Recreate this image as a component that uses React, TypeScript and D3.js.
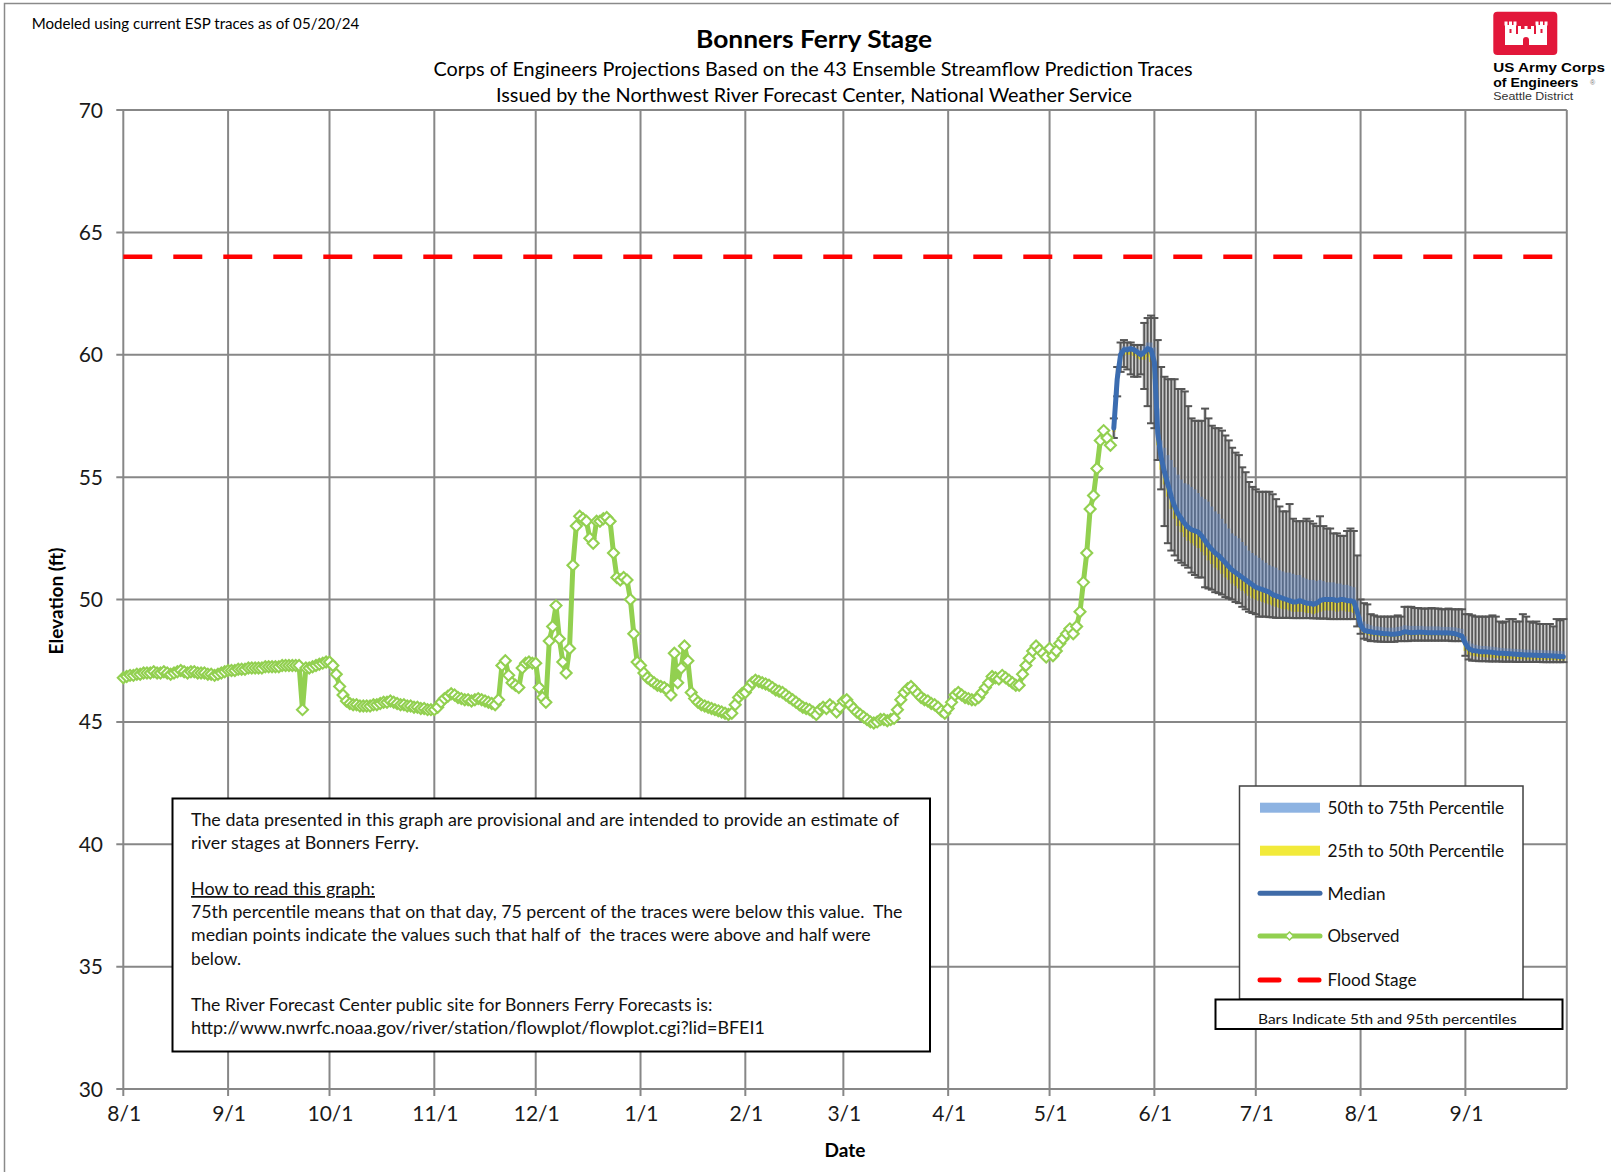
import React, { useEffect, useRef } from 'react';
import * as d3 from 'd3';

// Time span of the chart and of the two data series
const axisStart = new Date(2023, 7, 1);
const axisEnd = new Date(2024, 9, 1);
const observedStart = new Date(2023, 7, 1);
const forecastStart = new Date(2024, 4, 20);

// Daily observed stage (ft), 8/1/23 - 5/19/24
const observedStage: number[] = [
  // Aug
  46.8, 46.85, 46.9, 46.9, 46.95, 46.95, 47.0, 47.0, 47.0, 47.05, 47.0, 47.0, 47.05, 47.0, 46.95, 47.0,
  47.05, 47.1, 47.05, 47.0, 47.05, 47.05, 47.0, 47.0, 47.0, 46.95, 46.95, 46.9, 46.95, 47.0, 47.05,
  // Sep
  47.1, 47.1, 47.1, 47.15, 47.15, 47.15, 47.2, 47.2, 47.2, 47.2, 47.2, 47.25, 47.25, 47.25, 47.25,
  47.25, 47.3, 47.3, 47.3, 47.3, 47.3, 47.3, 45.5, 47.2, 47.2, 47.25, 47.3, 47.35, 47.4, 47.45,
  // Oct
  47.45, 47.3, 46.95, 46.45, 46.1, 45.85, 45.75, 45.7, 45.7, 45.65, 45.65, 45.65, 45.65, 45.7, 45.7,
  45.75, 45.8, 45.8, 45.85, 45.8, 45.75, 45.7, 45.7, 45.65, 45.65, 45.6, 45.6, 45.55, 45.55, 45.5, 45.5,
  // Nov
  45.5, 45.6, 45.8, 45.95, 46.05, 46.15, 46.1, 46.0, 45.95, 45.9, 45.9, 45.85, 45.9, 45.95, 45.9,
  45.85, 45.8, 45.75, 45.7, 45.9, 47.3, 47.5, 46.9, 46.6, 46.5, 46.4, 47.2, 47.4, 47.45, 47.4,
  // Dec
  47.4, 46.4, 46.0, 45.8, 48.3, 48.9, 49.75, 48.4, 47.45, 47.0, 48.0, 51.4, 53.0, 53.4, 53.3, 53.2,
  52.5, 52.3, 53.2, 53.2, 53.3, 53.35, 53.2, 51.9, 50.9, 50.8, 50.9, 50.8, 50.0, 48.6, 47.45,
  // Jan
  47.3, 47.0, 46.8, 46.7, 46.6, 46.5, 46.45, 46.4, 46.3, 46.1, 47.8, 46.6, 47.2, 48.1, 47.5, 46.2,
  45.95, 45.8, 45.7, 45.65, 45.6, 45.55, 45.5, 45.45, 45.4, 45.35, 45.3, 45.35, 45.7, 46.0, 46.15,
  // Feb
  46.2, 46.4, 46.6, 46.7, 46.65, 46.6, 46.55, 46.5, 46.4, 46.3, 46.25, 46.2, 46.1, 46.0, 45.9,
  45.8, 45.7, 45.6, 45.55, 45.5, 45.4, 45.3, 45.5, 45.6, 45.55, 45.7, 45.6, 45.4, 45.6,
  // Mar
  45.85, 45.9, 45.7, 45.55, 45.4, 45.3, 45.2, 45.1, 45.0, 44.95, 45.0, 45.1, 45.1, 45.05, 45.1, 45.15,
  45.5, 45.9, 46.2, 46.35, 46.45, 46.3, 46.15, 46.0, 45.9, 45.85, 45.75, 45.7, 45.6, 45.45, 45.35,
  // Apr
  45.55, 45.8, 46.1, 46.2, 46.1, 46.0, 45.95, 45.9, 45.9, 46.0, 46.2, 46.4, 46.6, 46.85, 46.8,
  46.75, 46.9, 46.8, 46.7, 46.6, 46.5, 46.5, 46.95, 47.3, 47.6, 47.9, 48.1, 47.95, 47.8, 47.65,
  // May 1-19
  48.0, 47.7, 47.9, 48.2, 48.4, 48.6, 48.8, 48.6, 48.9, 49.5, 50.7, 51.9, 53.7, 54.25, 55.35, 56.5,
  56.9, 56.6, 56.3,
];

// ESP forecast percentiles, daily 5/20/24 - 9/30/24
const forecastMedian: number[] = [
  57.0, 59.0, 60.0, 60.2, 60.2, 60.25, 60.2, 60.1, 60.0, 60.1, 60.25, 60.2,
  59.7, 56.8, 55.8, 55.2, 54.7, 54.2, 53.8, 53.5, 53.3, 53.1, 52.95, 52.85, 52.8, 52.75, 52.6,
  52.4, 52.2, 52.05, 51.9, 51.8, 51.65, 51.5, 51.35, 51.2, 51.1, 51.0, 50.9, 50.8, 50.7, 50.6,
  50.5, 50.45, 50.4, 50.35, 50.3, 50.2, 50.15, 50.1, 50.05, 50.0, 49.95, 49.9, 49.9, 49.95, 49.9,
  49.85, 49.85, 49.8, 49.85, 49.95, 50.0, 50.0, 50.0, 50.0, 49.95, 50.0, 50.0, 49.95, 49.95, 49.9, 49.5,
  48.95, 48.75, 48.7, 48.68, 48.65, 48.64, 48.62, 48.6, 48.6, 48.58, 48.58, 48.6, 48.62, 48.68, 48.66,
  48.64, 48.65, 48.66, 48.66, 48.65, 48.64, 48.64, 48.64, 48.64, 48.63, 48.64, 48.63, 48.62, 48.6, 48.55, 48.5,
  48.2, 48.0, 47.92, 47.9, 47.88, 47.87, 47.86, 47.85, 47.84, 47.82, 47.8, 47.8, 47.79, 47.78, 47.77,
  47.76, 47.75, 47.74, 47.73, 47.73, 47.72, 47.72, 47.71, 47.71, 47.7, 47.7, 47.69, 47.68, 47.67, 47.66,
];

const forecastP25: number[] = [
  56.85, 58.8, 59.8, 60.0, 60.0, 60.0, 59.95, 59.85, 59.8, 59.8, 59.9, 59.7,
  59.0, 56.3, 55.3, 54.7, 54.2, 53.7, 53.3, 53.0, 52.75, 52.55, 52.4, 52.3, 52.2, 52.1, 51.95,
  51.8, 51.6, 51.45, 51.3, 51.2, 51.05, 50.9, 50.8, 50.65, 50.55, 50.45, 50.35, 50.25, 50.15, 50.05,
  50.0, 49.95, 49.9, 49.85, 49.8, 49.75, 49.7, 49.65, 49.6, 49.6, 49.55, 49.5, 49.5, 49.5, 49.5,
  49.45, 49.45, 49.4, 49.45, 49.5, 49.55, 49.55, 49.55, 49.55, 49.5, 49.55, 49.55, 49.5, 49.5, 49.45, 49.2,
  48.8, 48.6, 48.55, 48.52, 48.5, 48.5, 48.48, 48.47, 48.47, 48.46, 48.46, 48.48, 48.5, 48.55, 48.53,
  48.52, 48.52, 48.53, 48.53, 48.52, 48.52, 48.52, 48.52, 48.52, 48.51, 48.52, 48.51, 48.5, 48.49, 48.45, 48.4,
  47.9, 47.75, 47.7, 47.68, 47.66, 47.65, 47.64, 47.63, 47.62, 47.61, 47.6, 47.6, 47.59, 47.58, 47.58,
  47.57, 47.56, 47.56, 47.55, 47.55, 47.55, 47.54, 47.54, 47.54, 47.53, 47.53, 47.53, 47.52, 47.52, 47.51,
];

const forecastP75: number[] = [
  57.2, 59.2, 60.2, 60.35, 60.35, 60.35, 60.3, 60.25, 60.2, 60.4, 60.5, 60.5,
  60.3, 57.8, 56.5, 56.2, 55.9, 55.7, 55.4, 55.1, 54.9, 54.75, 54.7, 54.6, 54.5, 54.35, 54.2,
  54.1, 54.0, 53.8, 53.6, 53.5, 53.3, 53.1, 52.9, 52.7, 52.6, 52.5, 52.35, 52.2, 52.0, 51.9,
  51.8, 51.7, 51.6, 51.5, 51.4, 51.35, 51.3, 51.2, 51.15, 51.1, 51.1, 51.05, 51.0, 51.0, 50.9,
  50.85, 50.8, 50.8, 50.75, 50.8, 50.75, 50.7, 50.7, 50.7, 50.65, 50.65, 50.6, 50.6, 50.55, 50.5, 50.0,
  49.3, 49.1, 49.0, 48.95, 48.9, 48.9, 48.88, 48.86, 48.85, 48.85, 48.85, 48.88, 48.9, 48.95, 48.93,
  48.92, 48.92, 48.92, 48.92, 48.9, 48.9, 48.9, 48.9, 48.9, 48.88, 48.88, 48.88, 48.87, 48.86, 48.83, 48.8,
  48.5, 48.3, 48.2, 48.15, 48.12, 48.1, 48.1, 48.08, 48.07, 48.05, 48.03, 48.02, 48.0, 48.0, 47.99,
  47.98, 47.97, 47.96, 47.95, 47.95, 47.94, 47.94, 47.93, 47.93, 47.92, 47.92, 47.91, 47.9, 47.9, 47.88,
];

const forecastP5: number[] = [
  56.6, 58.3, 59.3, 59.5, 59.4, 59.2, 59.1, 59.1, 59.2, 58.6, 57.9, 57.2,
  57.0, 55.7, 54.5, 53.0, 52.3, 52.0, 51.8, 51.6, 51.5, 51.4, 51.3, 51.1, 51.0, 50.9, 50.9,
  50.5, 50.45, 50.4, 50.3, 50.26, 50.2, 50.1, 50.05, 50.0, 49.9, 49.85, 49.7, 49.6, 49.5, 49.45,
  49.4, 49.3, 49.3, 49.3, 49.28, 49.27, 49.25, 49.25, 49.25, 49.25, 49.25, 49.24, 49.24, 49.24, 49.24,
  49.24, 49.24, 49.23, 49.23, 49.22, 49.22, 49.22, 49.2, 49.2, 49.2, 49.2, 49.2, 49.2, 49.2, 49.2, 48.9,
  48.6, 48.4, 48.35, 48.3, 48.3, 48.28, 48.28, 48.27, 48.27, 48.27, 48.27, 48.3, 48.3, 48.3, 48.3,
  48.32, 48.32, 48.32, 48.32, 48.32, 48.32, 48.32, 48.32, 48.32, 48.32, 48.32, 48.32, 48.3, 48.3, 48.3, 48.3,
  47.7, 47.55, 47.5, 47.5, 47.48, 47.48, 47.48, 47.47, 47.47, 47.47, 47.47, 47.46, 47.46, 47.46, 47.46,
  47.45, 47.45, 47.45, 47.45, 47.45, 47.45, 47.45, 47.45, 47.44, 47.44, 47.44, 47.44, 47.44, 47.44, 47.44,
];

const forecastP95: number[] = [
  57.4, 59.5, 60.5, 60.6, 60.5, 60.5, 60.4, 60.4, 60.4, 61.3, 61.5, 61.6,
  61.5, 60.6, 59.5, 59.1, 59.0, 59.0, 59.0, 58.6, 58.6, 58.5, 57.9, 57.4, 57.3, 57.3, 57.3,
  57.8, 57.4, 57.1, 57.0, 57.0, 56.9, 56.7, 56.5, 56.2, 56.0, 55.9, 55.4, 55.2, 54.8, 54.6,
  54.5, 54.4, 54.4, 54.4, 54.4, 54.3, 54.1, 53.8, 53.6, 53.6, 53.9, 53.3, 53.2, 53.2, 53.2,
  53.3, 53.2, 53.1, 53.0, 53.4, 53.0, 52.9, 52.9, 52.7, 52.7, 52.6, 52.6, 52.8, 52.9, 52.8, 51.8,
  50.0, 49.85, 49.8, 49.4, 49.35, 49.3, 49.3, 49.3, 49.3, 49.3, 49.3, 49.35, 49.3, 49.7, 49.7,
  49.7, 49.65, 49.65, 49.63, 49.63, 49.63, 49.65, 49.63, 49.63, 49.6, 49.6, 49.63, 49.6, 49.6, 49.6, 49.6,
  49.4, 49.4, 49.35, 49.3, 49.3, 49.3, 49.3, 49.3, 49.35, 49.3, 49.1, 49.05, 49.1, 49.2, 49.2,
  49.1, 49.1, 49.4, 49.3, 49.1, 49.05, 49.1, 49.0, 49.0, 49.0, 49.0, 48.9, 49.2, 49.15, 49.2,
];

const floodStage = 64;
const yTicks = [30, 35, 40, 45, 50, 55, 60, 65, 70];
const monthLabels = ['8/1', '9/1', '10/1', '11/1', '12/1', '1/1', '2/1', '3/1', '4/1', '5/1', '6/1', '7/1', '8/1', '9/1'];
const legendLabels = ['50th to 75th Percentile', '25th to 50th Percentile', 'Median', 'Observed', 'Flood Stage'];
const noteLines = [
  'The data presented in this graph are provisional and are intended to provide an estimate of',
  'river stages at Bonners Ferry.',
  'How to read this graph:',
  '75th percentile means that on that day, 75 percent of the traces were below this value.  The',
  'median points indicate the values such that half of  the traces were above and half were',
  'below.',
  'The River Forecast Center public site for Bonners Ferry Forecasts is:',
  'http://www.nwrfc.noaa.gov/river/station/flowplot/flowplot.cgi?lid=BFEI1',
];

const FONT = 'Lato, "Open Sans", sans-serif';
const ARIAL = '"Liberation Sans", Arial, sans-serif';

const ChartViewer = () => {
  const chartRef = useRef<SVGSVGElement | null>(null);

  useEffect(() => {
    if (!chartRef.current) return;
    const svg = d3.select(chartRef.current);
    svg.selectAll('*').remove();

    const left = 123.3;
    const right = 1566.8;
    const top = 110;
    const bottom = 1089;

    const x = d3.scaleTime().domain([axisStart, axisEnd]).range([left, right]);
    const y = d3.scaleLinear().domain([30, 70]).range([bottom, top]);

    svg.append('rect').attr('width', 1611).attr('height', 1172).attr('fill', '#fff');
    // outer chart border
    svg
      .append('rect')
      .attr('x', 4.5)
      .attr('y', 3.5)
      .attr('width', 1700)
      .attr('height', 1300)
      .attr('fill', 'none')
      .attr('stroke', '#8a8a8a')
      .attr('stroke-width', 1.5);

    // Gridlines and ticks
    const months = d3.timeMonth.range(axisStart, axisEnd);
    const grid = svg.append('g').attr('stroke', '#878787').attr('stroke-width', 2);
    yTicks.forEach((v) => {
      grid.append('line').attr('x1', left - 7).attr('x2', right).attr('y1', y(v)).attr('y2', y(v));
    });
    months.forEach((m) => {
      grid.append('line').attr('x1', x(m)).attr('x2', x(m)).attr('y1', top).attr('y2', bottom + 7);
    });
    grid.append('line').attr('x1', right).attr('x2', right).attr('y1', top).attr('y2', bottom);

    // Tick labels
    const labels = svg.append('g').attr('font-family', FONT).attr('fill', '#1a1a1a').attr('font-size', 21);
    yTicks.forEach((v) => {
      labels.append('text').attr('x', 103).attr('y', y(v) + 7.5).attr('text-anchor', 'end').text(v);
    });
    months.forEach((m, i) => {
      labels.append('text').attr('x', x(m) + 1).attr('y', 1121).attr('text-anchor', 'middle').text(monthLabels[i]);
    });

    svg
      .append('text')
      .attr('x', 845)
      .attr('y', 1157)
      .attr('text-anchor', 'middle')
      .attr('font-family', FONT)
      .attr('font-weight', 'bold')
      .attr('font-size', 19)
      .text('Date');
    svg
      .append('text')
      .attr('transform', 'translate(63,601) rotate(-90)')
      .attr('text-anchor', 'middle')
      .attr('font-family', FONT)
      .attr('font-weight', 'bold')
      .attr('font-size', 19)
      .text('Elevation (ft)');

    // Titles
    svg
      .append('text')
      .attr('x', 814)
      .attr('y', 48)
      .attr('text-anchor', 'middle')
      .attr('font-family', FONT)
      .attr('font-weight', 'bold')
      .attr('font-size', 24)
      .attr('textLength', 236)
      .attr('lengthAdjust', 'spacingAndGlyphs')
      .text('Bonners Ferry Stage');
    svg
      .append('text')
      .attr('x', 813)
      .attr('y', 76)
      .attr('text-anchor', 'middle')
      .attr('font-family', FONT)
      .attr('font-size', 18.5)
      .attr('textLength', 759)
      .attr('lengthAdjust', 'spacingAndGlyphs')
      .text('Corps of Engineers Projections Based on the 43 Ensemble Streamflow Prediction Traces');
    svg
      .append('text')
      .attr('x', 814)
      .attr('y', 101.5)
      .attr('text-anchor', 'middle')
      .attr('font-family', FONT)
      .attr('font-size', 18.5)
      .attr('textLength', 636)
      .attr('lengthAdjust', 'spacingAndGlyphs')
      .text('Issued by the Northwest River Forecast Center, National Weather Service');
    svg
      .append('text')
      .attr('x', 31.7)
      .attr('y', 29)
      .attr('font-family', FONT)
      .attr('font-size', 14.5)
      .attr('textLength', 327.6)
      .attr('lengthAdjust', 'spacingAndGlyphs')
      .text('Modeled using current ESP traces as of 05/20/24');

    // Forecast bands
    const forecast = forecastMedian.map((m, i) => ({
      date: d3.timeDay.offset(forecastStart, i),
      p5: forecastP5[i],
      p25: forecastP25[i],
      med: m,
      p75: forecastP75[i],
      p95: forecastP95[i],
    }));
    const dayW = x(d3.timeDay.offset(forecastStart, 1)) - x(forecastStart);
    const fg = svg.append('g');

    forecast.forEach((d) => {
      fg.append('rect')
        .attr('x', x(d.date) - dayW / 2)
        .attr('width', dayW)
        .attr('y', y(d.p95))
        .attr('height', y(d.p5) - y(d.p95))
        .attr('fill', '#c2c2c2');
    });
    forecast.forEach((d) => {
      fg.append('rect')
        .attr('x', x(d.date) - dayW / 2)
        .attr('width', dayW)
        .attr('y', y(d.med))
        .attr('height', y(d.p25) - y(d.med))
        .attr('fill', '#e3d92c');
    });
    forecast.forEach((d) => {
      fg.append('line')
        .attr('x1', x(d.date))
        .attr('x2', x(d.date))
        .attr('y1', y(d.p5))
        .attr('y2', y(d.p95))
        .attr('stroke', '#575757')
        .attr('stroke-width', 1.8);
    });
    forecast.forEach((d) => {
      fg.append('rect')
        .attr('x', x(d.date) - dayW / 2)
        .attr('width', dayW)
        .attr('y', y(d.p75))
        .attr('height', y(d.med) - y(d.p75))
        .attr('fill', '#5d86c6')
        .attr('opacity', 0.45);
    });
    forecast.forEach((d) => {
      [d.p5, d.p95].forEach((v) => {
        fg.append('line')
          .attr('x1', x(d.date) - 4)
          .attr('x2', x(d.date) + 4)
          .attr('y1', y(v))
          .attr('y2', y(v))
          .attr('stroke', '#555')
          .attr('stroke-width', 2);
      });
    });

    const medianLine = d3
      .line<{ date: Date; med: number }>()
      .x((d) => x(d.date))
      .y((d) => y(d.med));
    fg.append('path')
      .datum(forecast)
      .attr('fill', 'none')
      .attr('stroke', '#3b6cb0')
      .attr('stroke-width', 5)
      .attr('stroke-linejoin', 'round')
      .attr('stroke-linecap', 'round')
      .attr('d', medianLine);

    // Observed series
    const observed = observedStage.map((v, i) => ({ date: d3.timeDay.offset(observedStart, i), value: v }));
    const obsLine = d3
      .line<{ date: Date; value: number }>()
      .x((d) => x(d.date))
      .y((d) => y(d.value));
    svg
      .append('path')
      .datum(observed)
      .attr('fill', 'none')
      .attr('stroke', '#92d050')
      .attr('stroke-width', 5)
      .attr('stroke-linejoin', 'round')
      .attr('d', obsLine);
    const diamond = 'M0,-5.5L5.5,0L0,5.5L-5.5,0Z';
    svg
      .append('g')
      .selectAll('path')
      .data(observed)
      .enter()
      .append('path')
      .attr('d', diamond)
      .attr('transform', (d) => `translate(${x(d.date)},${y(d.value)})`)
      .attr('fill', '#fff')
      .attr('stroke', '#92d050')
      .attr('stroke-width', 2.1);

    // Flood stage
    svg
      .append('line')
      .attr('x1', left)
      .attr('x2', right)
      .attr('y1', y(floodStage))
      .attr('y2', y(floodStage))
      .attr('stroke', '#ff0000')
      .attr('stroke-width', 4.5)
      .attr('stroke-dasharray', '29 21');

    // Note box
    const note = svg.append('g').attr('font-family', FONT).attr('font-size', 17.5).attr('fill', '#111');
    note
      .append('rect')
      .attr('x', 172.5)
      .attr('y', 798.5)
      .attr('width', 757.5)
      .attr('height', 253)
      .attr('fill', '#fff')
      .attr('stroke', '#000')
      .attr('stroke-width', 2);
    const noteY = [825.5, 848.5, 895, 917.5, 941, 964.5, 1011, 1033.5];
    const noteW = [708, 228, 184, 711.5, 679.6, 50, 521.4, 573.8];
    noteLines.forEach((t, i) => {
      note
        .append('text')
        .attr('x', 191)
        .attr('y', noteY[i])
        .attr('textLength', noteW[i])
        .attr('lengthAdjust', 'spacingAndGlyphs')
        .attr('text-decoration', i === 2 ? 'underline' : null)
        .attr('xml:space', 'preserve')
        .text(t);
    });

    // Legend
    const lg = svg.append('g').attr('font-family', FONT).attr('font-size', 17.5).attr('fill', '#111');
    lg.append('rect')
      .attr('x', 1239.5)
      .attr('y', 786)
      .attr('width', 283.5)
      .attr('height', 213)
      .attr('fill', '#fff')
      .attr('stroke', '#404040')
      .attr('stroke-width', 1.5);
    const rowY = [807.7, 850.7, 893.3, 936, 980];
    const legendW = [176.6, 176.6, 58, 72, 89];
    legendLabels.forEach((t, i) => {
      const cy = rowY[i];
      if (i === 0 || i === 1) {
        lg.append('rect')
          .attr('x', 1260)
          .attr('y', cy - 5)
          .attr('width', 60)
          .attr('height', 10)
          .attr('fill', i === 0 ? '#8db3e2' : '#f2ea3a');
      } else if (i === 2 || i === 3) {
        lg.append('line')
          .attr('x1', 1260)
          .attr('x2', 1320)
          .attr('y1', cy)
          .attr('y2', cy)
          .attr('stroke', i === 2 ? '#3f6ba8' : '#92d050')
          .attr('stroke-width', 5)
          .attr('stroke-linecap', 'round');
        if (i === 3) {
          lg.append('path')
            .attr('d', 'M0,-4L4,0L0,4L-4,0Z')
            .attr('transform', `translate(1289.5,${cy})`)
            .attr('fill', '#fff')
            .attr('stroke', '#92d050')
            .attr('stroke-width', 1.5);
        }
      } else {
        [[1260, 1279], [1300, 1319]].forEach(([a, b]) => {
          lg.append('line')
            .attr('x1', a)
            .attr('x2', b)
            .attr('y1', cy)
            .attr('y2', cy)
            .attr('stroke', '#ff0000')
            .attr('stroke-width', 5)
            .attr('stroke-linecap', 'round');
        });
      }
      lg.append('text')
        .attr('x', 1327.5)
        .attr('y', cy + 6.3)
        .attr('textLength', legendW[i])
        .attr('lengthAdjust', 'spacingAndGlyphs')
        .text(t);
    });

    svg
      .append('rect')
      .attr('x', 1215.5)
      .attr('y', 999.5)
      .attr('width', 347)
      .attr('height', 29.5)
      .attr('fill', '#fff')
      .attr('stroke', '#000')
      .attr('stroke-width', 2);
    svg
      .append('text')
      .attr('x', 1258)
      .attr('y', 1023.5)
      .attr('font-family', FONT)
      .attr('font-size', 14)
      .attr('fill', '#111')
      .attr('textLength', 258.7)
      .attr('lengthAdjust', 'spacingAndGlyphs')
      .text('Bars Indicate 5th and 95th percentiles');

    // USACE logo
    const logo = svg.append('g');
    logo.append('rect').attr('x', 1493.3).attr('y', 11.7).attr('width', 64).attr('height', 43.3).attr('rx', 4).attr('fill', '#e2173a');
    const castle = logo.append('g').attr('fill', '#fff');
    castle.append('rect').attr('x', 1505).attr('y', 34).attr('width', 42).attr('height', 11);
    castle.append('rect').attr('x', 1505).attr('y', 25).attr('width', 11).attr('height', 12);
    castle.append('rect').attr('x', 1536).attr('y', 25).attr('width', 11).attr('height', 12);
    castle.append('rect').attr('x', 1518).attr('y', 29).attr('width', 16).attr('height', 8);
    [1505, 1509.5, 1514, 1536, 1540.5, 1545].forEach((cx) => {
      castle.append('rect').attr('x', cx - 0.5).attr('y', 21.5).attr('width', 3).attr('height', 4);
    });
    [1518, 1524.5, 1531].forEach((cx) => {
      castle.append('rect').attr('x', cx).attr('y', 26).attr('width', 3).attr('height', 4);
    });
    logo.append('path').attr('d', 'M1523,45 L1523,40 A3,3 0 0 1 1529,40 L1529,45 Z').attr('fill', '#e2173a');
    [1509.5, 1540.5].forEach((cx) => {
      logo.append('rect').attr('x', cx).attr('y', 29).attr('width', 2).attr('height', 4).attr('fill', '#e2173a');
    });
    svg
      .append('text')
      .attr('x', 1493.3)
      .attr('y', 72)
      .attr('font-family', ARIAL)
      .attr('font-weight', 'bold')
      .attr('font-size', 13)
      .attr('textLength', 111.7)
      .attr('lengthAdjust', 'spacingAndGlyphs')
      .text('US Army Corps');
    svg
      .append('text')
      .attr('x', 1493.3)
      .attr('y', 86.5)
      .attr('font-family', ARIAL)
      .attr('font-weight', 'bold')
      .attr('font-size', 13)
      .attr('textLength', 85)
      .attr('lengthAdjust', 'spacingAndGlyphs')
      .text('of Engineers');
    svg
      .append('text')
      .attr('x', 1590)
      .attr('y', 85)
      .attr('font-family', ARIAL)
      .attr('font-size', 7)
      .attr('fill', '#777')
      .text('®');
    svg
      .append('text')
      .attr('x', 1493.3)
      .attr('y', 99.5)
      .attr('font-family', ARIAL)
      .attr('font-size', 11)
      .attr('fill', '#333')
      .attr('textLength', 80)
      .attr('lengthAdjust', 'spacingAndGlyphs')
      .text('Seattle District');
  }, []);

  return (
    <svg
      ref={chartRef}
      width={1611}
      height={1172}
      style={{ position: 'absolute', left: 0, top: 0, display: 'block' }}
    />
  );
};

export default function App() {
  return <ChartViewer />;
}
